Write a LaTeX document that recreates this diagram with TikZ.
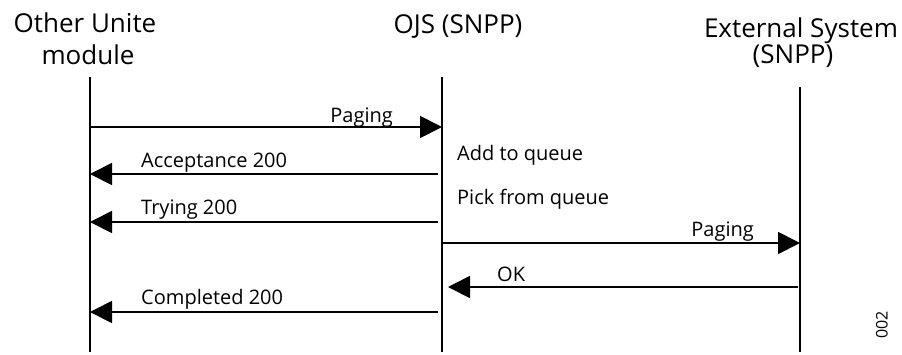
\documentclass[tikz,border=0pt]{standalone}
\usepackage{fontspec}
\setmainfont{Open Sans}
\usetikzlibrary{arrows.meta}
\begin{document}
\begin{tikzpicture}[x=1pt,y=-1pt,
  life/.style={line width=1.8pt},
  msg/.style={line width=1.8pt,-{Triangle[length=22pt,width=22pt]}},
  title/.style={font=\fontsize{26}{30}\selectfont,inner sep=0pt,anchor=base},
  lbl/.style={font=\fontsize{20}{24}\selectfont,inner sep=0pt}]
\useasboundingbox (0,0) rectangle (902,354);
\node[title] (tA1) at (85,32) {Other Unite};
\node[title] (tA2) at (88,64) {module};
\node[title] (tB) at (458,33) {OJS (SNPP)};
\node[title] (tC1) at (801,37) {External System};
\node[title] (tC2) at (793,63) {(SNPP)};
\coordinate (a0) at (90,77);  \coordinate (a1) at (90,352);
\coordinate (b0) at (442,77); \coordinate (b1) at (442,352);
\coordinate (c0) at (800,87); \coordinate (c1) at (800,352);
\draw[life] (a0) -- (a1);
\draw[life] (b0) -- (b1);
\draw[life] (c0) -- (c1);
\coordinate (p1s) at (90,127);  \coordinate (p1e) at (442,127);
\coordinate (acs) at (438,174); \coordinate (ace) at (90,174);
\coordinate (trs) at (438,222); \coordinate (tre) at (90,222);
\coordinate (p2s) at (442,243); \coordinate (p2e) at (800,243);
\coordinate (oks) at (798,287); \coordinate (oke) at (448,287);
\coordinate (cos) at (438,312); \coordinate (coe) at (90,312);
\draw[msg] (p1s) -- (p1e);
\draw[msg] (acs) -- (ace);
\draw[msg] (trs) -- (tre);
\draw[msg] (p2s) -- (p2e);
\draw[msg] (oks) -- (oke);
\draw[msg] (cos) -- (coe);
\node[lbl,anchor=base east] (l1) at (393,122) {Paging};
\node[lbl,anchor=base west] (l2) at (141,167) {Acceptance 200};
\node[lbl,anchor=base west] (l3) at (141,214) {Trying 200};
\node[lbl,anchor=base west] (l4) at (457,160) {Add to queue};
\node[lbl,anchor=base west] (l5) at (457,204) {Pick from queue};
\node[lbl,anchor=base east] (l6) at (754,236) {Paging};
\node[lbl,anchor=base west] (l7) at (497,281) {OK};
\node[lbl,anchor=base west] (l8) at (141,304) {Completed 200};
\node[lbl,rotate=90,font=\fontsize{16}{18}\selectfont] (l9) at (882,325) {002};
\end{tikzpicture}
\end{document}
